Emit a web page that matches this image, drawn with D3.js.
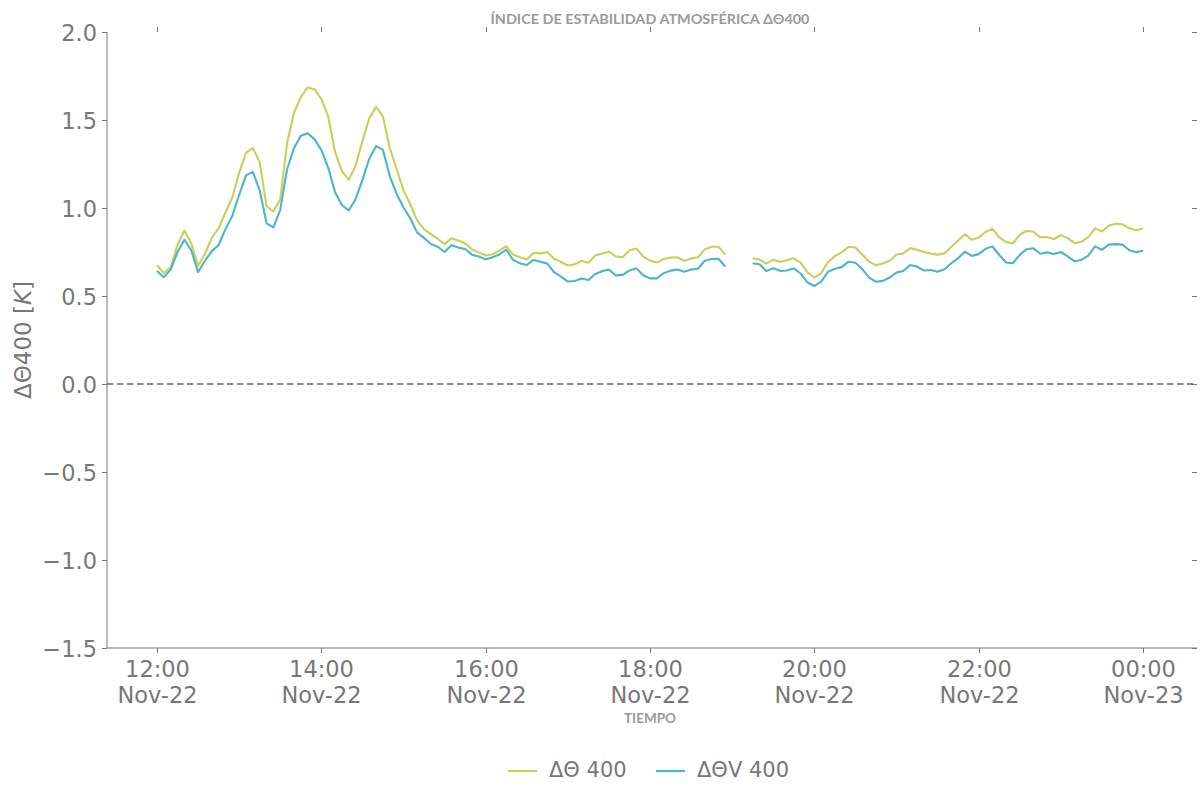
<!DOCTYPE html>
<html>
<head>
<meta charset="utf-8">
<script src="https://cdn.jsdelivr.net/npm/d3@7"></script>
<style>
  body { margin: 0; background: #fff; }
  svg { display: block; }
</style>
</head>
<body>
<svg id="chart"></svg>
<script>
// 5-minute samples starting Nov-22 12:00, null = missing data
const startTime = new Date(2023, 10, 22, 12, 0);
const stepMinutes = 5;

const theta400 = [
	0.675, 0.63, 0.665, 0.79, 0.872, 0.80, 0.67, 0.74, 0.83, 0.885,
	0.975, 1.06, 1.20, 1.315, 1.34, 1.26, 1.01, 0.98, 1.05, 1.37,
	1.54, 1.63, 1.685, 1.675, 1.62, 1.52, 1.32, 1.21, 1.16, 1.24,
	1.38, 1.51, 1.575, 1.52, 1.34, 1.22, 1.10, 1.02, 0.93, 0.88,
	0.852, 0.825, 0.795, 0.828, 0.815, 0.80, 0.765, 0.748, 0.73, 0.737,
	0.758, 0.783, 0.735, 0.72, 0.708, 0.745, 0.742, 0.75, 0.712, 0.693,
	0.673, 0.68, 0.70, 0.689, 0.73, 0.741, 0.752, 0.725, 0.72, 0.76,
	0.77, 0.725, 0.701, 0.69, 0.71, 0.718, 0.72, 0.70, 0.713, 0.72,
	0.765, 0.78, 0.78, 0.735, null, null, null, 0.714, 0.707, 0.684,
	0.706, 0.695, 0.703, 0.714, 0.69, 0.635, 0.605, 0.629, 0.693, 0.727,
	0.748, 0.78, 0.776, 0.736, 0.695, 0.674, 0.685, 0.70, 0.736, 0.742,
	0.772, 0.763, 0.75, 0.741, 0.735, 0.742, 0.78, 0.815, 0.85, 0.82,
	0.832, 0.864, 0.882, 0.833, 0.806, 0.799, 0.848, 0.87, 0.865, 0.833,
	0.835, 0.824, 0.846, 0.829, 0.80, 0.808, 0.835, 0.884, 0.866, 0.90,
	0.91, 0.908, 0.885, 0.874, 0.883
];

const thetaV400 = [
	0.642, 0.607, 0.65, 0.75, 0.82, 0.76, 0.635, 0.70, 0.755, 0.79,
	0.88, 0.955, 1.075, 1.185, 1.205, 1.10, 0.913, 0.89, 0.99, 1.22,
	1.34, 1.41, 1.425, 1.39, 1.33, 1.23, 1.09, 1.017, 0.986, 1.05,
	1.16, 1.28, 1.352, 1.33, 1.18, 1.08, 1.003, 0.94, 0.86, 0.83,
	0.795, 0.78, 0.75, 0.788, 0.775, 0.767, 0.735, 0.724, 0.708, 0.72,
	0.736, 0.763, 0.705, 0.686, 0.676, 0.705, 0.695, 0.684, 0.635, 0.61,
	0.582, 0.585, 0.60, 0.591, 0.625, 0.641, 0.65, 0.617, 0.62, 0.645,
	0.657, 0.618, 0.60, 0.60, 0.63, 0.644, 0.65, 0.638, 0.65, 0.655,
	0.70, 0.71, 0.712, 0.668, null, null, null, 0.686, 0.68, 0.642,
	0.658, 0.643, 0.645, 0.657, 0.628, 0.577, 0.557, 0.582, 0.638, 0.655,
	0.664, 0.695, 0.689, 0.653, 0.604, 0.581, 0.586, 0.605, 0.633, 0.642,
	0.676, 0.667, 0.645, 0.648, 0.638, 0.652, 0.686, 0.715, 0.752, 0.728,
	0.738, 0.768, 0.782, 0.733, 0.69, 0.686, 0.734, 0.766, 0.771, 0.74,
	0.748, 0.738, 0.75, 0.725, 0.697, 0.705, 0.73, 0.782, 0.762, 0.792,
	0.795, 0.792, 0.76, 0.748, 0.757
];

const yTicks = [-1.5, -1.0, -0.5, 0.0, 0.5, 1.0, 1.5, 2.0];
const seriesNames = ["ΔΘ 400", "ΔΘV 400"];
const seriesColors = ["#c8d05a", "#4db6c6"];

const width = 1202, height = 799;
const plotLeft = 107, plotRight = 1197, plotTop = 32, plotBottom = 648;
const grey = "#777777";
const tickFont = "'DejaVu Sans', sans-serif";

const svg = d3.select("#chart").attr("width", width).attr("height", height);

const times = theta400.map((d, i) => d3.timeMinute.offset(startTime, i * stepMinutes));
const endTime = times[times.length - 1];

const x = d3.scaleTime().domain([startTime, endTime]).range([157, 1143]);
const y = d3.scaleLinear().domain([-1.5, 2.0]).range([plotBottom, plotTop]);
const xTicks = d3.timeHour.every(2).range(startTime, d3.timeMinute.offset(endTime, 1));

// spines
svg.append("line")
	.attr("x1", plotLeft).attr("x2", plotLeft).attr("y1", plotTop).attr("y2", plotBottom)
	.attr("stroke", grey).attr("stroke-width", 1);
svg.append("line")
	.attr("x1", plotLeft).attr("x2", plotRight).attr("y1", plotBottom).attr("y2", plotBottom)
	.attr("stroke", grey).attr("stroke-width", 1);

// y axis ticks + labels (left), small ticks on the right
yTicks.forEach((t) => {
	const yy = Math.round(y(t)) + 0.5;
	svg.append("line")
		.attr("x1", plotLeft - 5).attr("x2", plotLeft).attr("y1", yy).attr("y2", yy)
		.attr("stroke", grey).attr("stroke-width", 1);
	svg.append("line")
		.attr("x1", plotRight - 5).attr("x2", plotRight).attr("y1", yy).attr("y2", yy)
		.attr("stroke", grey).attr("stroke-width", 1);
	svg.append("text")
		.attr("x", 97).attr("y", yy)
		.attr("dy", "0.36em")
		.attr("text-anchor", "end")
		.attr("font-family", tickFont)
		.attr("font-size", "22.5px")
		.attr("fill", grey)
		.text(d3.format(".1f")(t).replace("-", "\u2212"));
});

// x axis ticks + two-line labels, small ticks on top
const fmtTime = d3.timeFormat("%H:%M");
const fmtDay = d3.timeFormat("%b-%d");
xTicks.forEach((t) => {
	const xx = Math.round(x(t)) + 0.5;
	svg.append("line")
		.attr("x1", xx).attr("x2", xx).attr("y1", plotBottom).attr("y2", plotBottom + 5)
		.attr("stroke", grey).attr("stroke-width", 1);
	svg.append("line")
		.attr("x1", xx).attr("x2", xx).attr("y1", plotTop - 5).attr("y2", plotTop)
		.attr("stroke", grey).attr("stroke-width", 1);
	const lbl = svg.append("text")
		.attr("text-anchor", "middle")
		.attr("font-family", tickFont)
		.attr("font-size", "22.5px")
		.attr("fill", grey);
	lbl.append("tspan").attr("x", xx).attr("y", 677).text(fmtTime(t));
	lbl.append("tspan").attr("x", xx).attr("y", 703).text(fmtDay(t));
});

// zero reference line
svg.append("line")
	.attr("x1", plotLeft).attr("x2", plotRight)
	.attr("y1", y(0)).attr("y2", y(0))
	.attr("stroke", "#666").attr("stroke-width", 1.6)
	.attr("stroke-dasharray", "6.5,3.5");

// series
const line = d3.line()
	.defined((d) => d.v !== null)
	.x((d) => x(d.t))
	.y((d) => y(d.v));

[theta400, thetaV400].forEach((vals, k) => {
	const pts = vals.map((v, i) => ({ t: times[i], v: v }));
	svg.append("path")
		.datum(pts)
		.attr("d", line)
		.attr("fill", "none")
		.attr("stroke", seriesColors[k])
		.attr("stroke-width", 2.1)
		.attr("stroke-linejoin", "round");
});

// titles
svg.append("text")
	.attr("x", 650).attr("y", 24)
	.attr("text-anchor", "middle")
	.attr("font-family", "Lato, sans-serif")
	.attr("font-weight", "bold")
	.attr("font-size", "12.5px")
	.attr("fill", "#9a9a9a")
	.attr("textLength", 319)
	.attr("lengthAdjust", "spacingAndGlyphs")
	.text("ÍNDICE DE ESTABILIDAD ATMOSFÉRICA ΔΘ400");

svg.append("text")
	.attr("x", 650).attr("y", 723)
	.attr("text-anchor", "middle")
	.attr("font-family", "Lato, sans-serif")
	.attr("font-weight", "bold")
	.attr("font-size", "12.5px")
	.attr("fill", "#9a9a9a")
	.attr("textLength", 52)
	.attr("lengthAdjust", "spacingAndGlyphs")
	.text("TIEMPO");

const yLabel = svg.append("text")
	.attr("transform", "translate(31,340) rotate(-90)")
	.attr("text-anchor", "middle")
	.attr("font-family", tickFont)
	.attr("font-size", "23px")
	.attr("fill", grey);
yLabel.append("tspan").text("ΔΘ400 [");
yLabel.append("tspan").attr("font-style", "italic").text("K");
yLabel.append("tspan").text("]");

// legend
const legendX = [508, 656];
seriesNames.forEach((name, k) => {
	svg.append("line")
		.attr("x1", legendX[k]).attr("x2", legendX[k] + 29)
		.attr("y1", 771).attr("y2", 771)
		.attr("stroke", seriesColors[k]).attr("stroke-width", 2.1);
	svg.append("text")
		.attr("x", legendX[k] + 41).attr("y", 777)
		.attr("font-family", tickFont)
		.attr("font-size", "21px")
		.attr("fill", grey)
		.text(name);
});
</script>
</body>
</html>
